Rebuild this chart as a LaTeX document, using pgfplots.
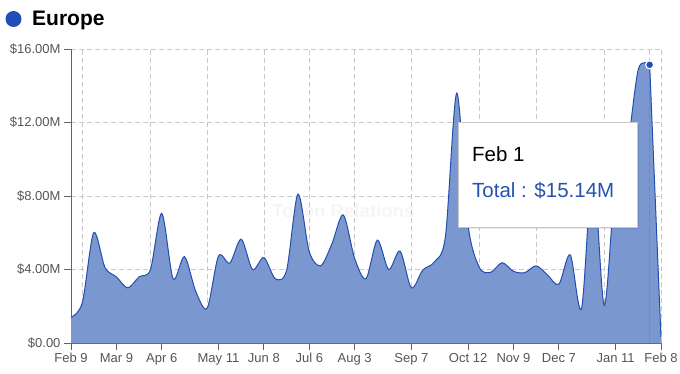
\documentclass[border=0pt]{standalone}
\usepackage{fontspec}
\setmainfont{Liberation Sans}
\usepackage{pgfplots}
\pgfplotsset{compat=1.18}
\definecolor{fillblue}{RGB}{122,151,208}
\definecolor{lineblue}{RGB}{36,78,172}
\definecolor{dotblue}{RGB}{30,78,182}
\definecolor{tipblue}{RGB}{38,82,176}
\definecolor{gridgray}{RGB}{200,200,200}
\definecolor{axgray}{RGB}{100,100,100}
\definecolor{labgray}{RGB}{85,85,85}
\pgfplotstableread{
w v
0 1.4
1 2.2
2 6.0
3 4.1
4 3.6
5 3.0
6 3.6
7 4.0
8 7.05
9 3.5
10 4.7
11 2.8
12 1.9
13 4.73
14 4.35
15 5.65
16 4.0
17 4.65
18 3.5
19 3.95
20 8.1
21 4.97
22 4.2
23 5.4
24 6.97
25 4.6
26 3.5
27 5.6
28 4.0
29 5.0
30 3.0
31 3.97
32 4.4
33 5.8
34 13.6
35 6.4
36 4.1
37 3.85
38 4.37
39 3.9
40 3.83
41 4.2
42 3.7
43 3.2
44 4.8
45 1.9
46 9.5
47 2.05
48 9.0
49 10.5
50 14.9
51 15.14
}\mainseries
\pgfplotstableread{
w v
51 15.14
52 0.3
}\dropseries
\begin{document}
\begin{tikzpicture}
\path[use as bounding box] (0pt,0pt) rectangle (680pt,-374pt);
% title
\fill[dotblue] (13.5pt,-19pt) circle (8pt);
\node[anchor=base west, inner sep=0pt, font=\bfseries\fontsize{21}{24}\selectfont] at (32pt,-26pt) {Europe};
\begin{axis}[
  at={(71pt,-343pt)}, anchor=south west,
  scale only axis, width=590pt, height=294pt,
  xmin=0, xmax=52, ymin=0, ymax=16,
  axis x line=bottom, axis y line=left,
  axis line style={-, draw=axgray, line width=0.8pt},
  tick align=outside,
  major tick length=7pt,
  tick style={draw=axgray, line width=0.8pt},
  ticklabel style={font=\fontsize{13}{15}\selectfont, text=labgray},
  xtick={0,4,8,13,17,21,25,30,35,39,43,48,52},
  xticklabels={Feb 9,Mar 9,Apr 6,May 11,Jun 8,Jul 6,Aug 3,Sep 7,Oct 12,Nov 9,Dec 7,Jan 11,Feb 8},
  ytick={0,4,8,12,16},
  yticklabels={\$0.00,\$4.00M,\$8.00M,\$12.00M,\$16.00M},
  ymajorgrids=true,
  major grid style={draw=gridgray, dash pattern=on 5pt off 3pt, line width=0.6pt},
  extra x ticks={1,7,12,17,21,25,30,36,41,47,51,52},
  extra x tick labels={},
  extra x tick style={xmajorgrids=true, major tick length=0pt, tick style={draw=none}},
  clip=false,
]
\addplot[smooth, tension=0.5, fill=fillblue, draw=none] table[x=w,y=v] {\mainseries} \closedcycle;
\addplot[fill=fillblue, draw=none] table[x=w,y=v] {\dropseries} \closedcycle;
\addplot[smooth, tension=0.5, draw=lineblue, line width=1pt] table[x=w,y=v] {\mainseries};
\addplot[draw=lineblue, line width=1pt] table[x=w,y=v] {\dropseries};
\addplot[draw=lineblue, opacity=0.3, line width=0.6pt] coordinates {(51,0) (51,15.14)};
\node[font=\bfseries\fontsize{18.6}{20}\selectfont, text=gray, opacity=0.08] at (axis cs:24,7.2) {Token Relations};
\addplot[only marks, mark=*, mark size=4pt, mark options={fill=dotblue, draw=white, line width=1.2pt}] coordinates {(51,15.14)};
\end{axis}
% tooltip
\fill[black, opacity=0.08] (460pt,-124pt) rectangle (639pt,-229pt);
\filldraw[fill=white, draw=gridgray, line width=0.8pt] (458pt,-122pt) rectangle (637pt,-227pt);
\node[anchor=base west, inner sep=0pt, font=\fontsize{20.5}{24}\selectfont] at (472pt,-162pt) {Feb 1};
\node[anchor=base west, inner sep=0pt, text=tipblue, font=\fontsize{20.5}{24}\selectfont] at (472pt,-198pt) {Total : \$15.14M};
\end{tikzpicture}
\end{document}
